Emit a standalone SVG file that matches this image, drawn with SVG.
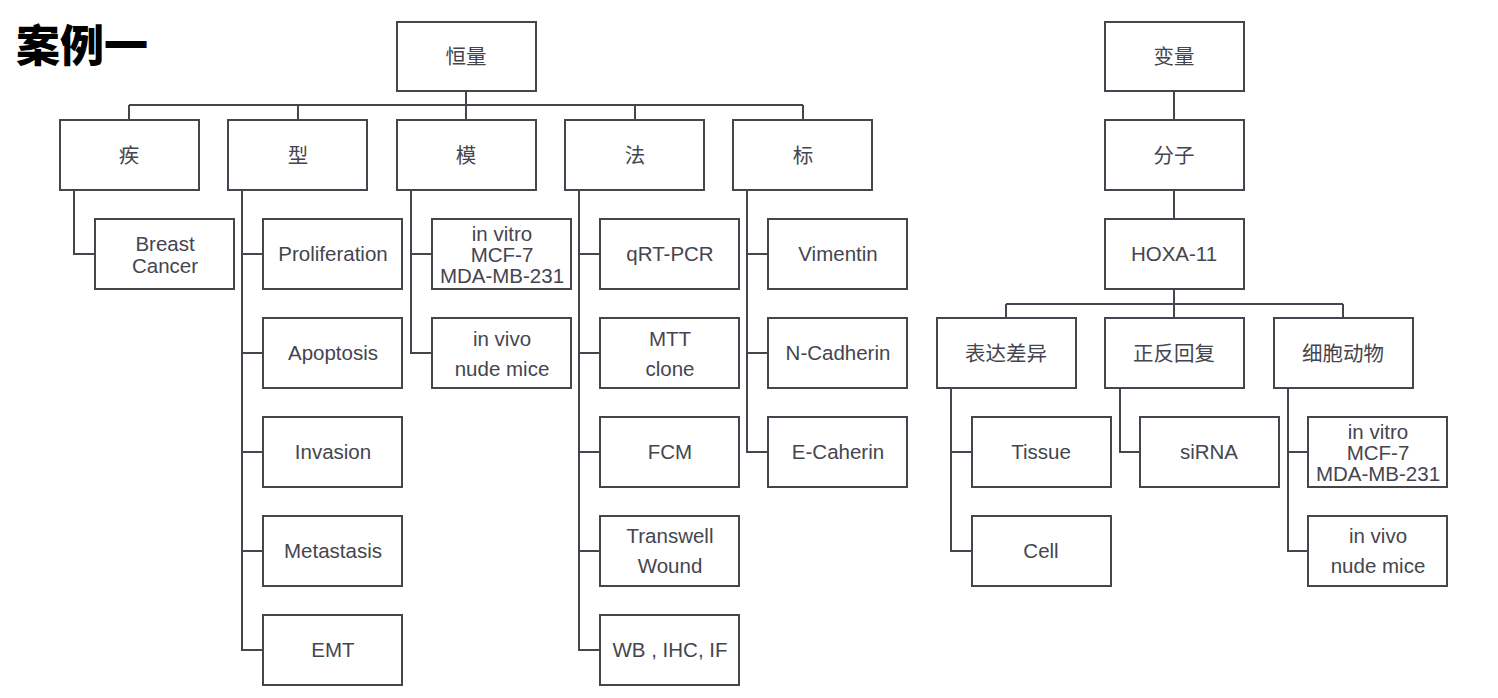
<svg xmlns="http://www.w3.org/2000/svg" width="1498" height="698" viewBox="0 0 1498 698">
<style>
.b{fill:#fff;stroke:#45454d;stroke-width:2}
.c{fill:none;stroke:#45454d;stroke-width:2}
text{font-family:"Liberation Sans","Noto Sans CJK SC",sans-serif;font-size:20.5px;fill:#45454f;text-anchor:middle;dominant-baseline:central}
.t{font-family:"Noto Sans CJK SC",sans-serif;font-size:44px;font-weight:900;fill:#000;text-anchor:start}
</style>
<rect width="1498" height="698" fill="#fff"/>
<text class="t" x="16" y="43">案例一</text>
<g id="connectors">
<path class="c" d="M466 91V120M129 105H803M129 105V120M298 105V120M635 105V120M803 105V120"/>
<path class="c" d="M74 190V254H95"/>
<path class="c" d="M242 190V650H263M242 254H263M242 353H263M242 452H263M242 551H263"/>
<path class="c" d="M411 190V353H432M411 254H432"/>
<path class="c" d="M579 190V650H600M579 254H600M579 353H600M579 452H600M579 551H600"/>
<path class="c" d="M747 190V452H768M747 254H768M747 353H768"/>
<path class="c" d="M1174 91V120M1174 190V219M1174 289V318M1006 304H1343M1006 304V318M1343 304V318"/>
<path class="c" d="M951 388V551H972M951 452H972"/>
<path class="c" d="M1120 388V452H1140"/>
<path class="c" d="M1288 388V551H1308M1288 452H1308"/>
</g>
<g id="n-hengliang"><rect class="b" x="397" y="22" width="139" height="69"/><text x="466" y="56">恒量</text></g>
<g id="n-ji"><rect class="b" x="60" y="120" width="139" height="70"/><text x="129" y="155">疾</text></g>
<g id="n-xing"><rect class="b" x="228" y="120" width="139" height="70"/><text x="298" y="155">型</text></g>
<g id="n-mo"><rect class="b" x="397" y="120" width="139" height="70"/><text x="466" y="155">模</text></g>
<g id="n-fa"><rect class="b" x="565" y="120" width="139" height="70"/><text x="635" y="155">法</text></g>
<g id="n-biao"><rect class="b" x="733" y="120" width="139" height="70"/><text x="803" y="155">标</text></g>
<g id="n-bc"><rect class="b" x="95" y="219" width="139" height="70"/><text x="165" y="243">Breast</text><text x="165" y="265">Cancer</text></g>
<g id="n-prolif"><rect class="b" x="263" y="219" width="139" height="70"/><text x="333" y="253">Proliferation</text></g>
<g id="n-apop"><rect class="b" x="263" y="318" width="139" height="70"/><text x="333" y="352">Apoptosis</text></g>
<g id="n-inv"><rect class="b" x="263" y="417" width="139" height="70"/><text x="333" y="451">Invasion</text></g>
<g id="n-meta"><rect class="b" x="263" y="516" width="139" height="70"/><text x="333" y="550">Metastasis</text></g>
<g id="n-emt"><rect class="b" x="263" y="615" width="139" height="70"/><text x="333" y="649">EMT</text></g>
<g id="n-invitro1"><rect class="b" x="432" y="219" width="139" height="70"/><text x="502" y="233">in vitro</text><text x="502" y="254">MCF-7</text><text x="502" y="275">MDA-MB-231</text></g>
<g id="n-invivo1"><rect class="b" x="432" y="318" width="139" height="70"/><text x="502" y="338">in vivo</text><text x="502" y="368">nude mice</text></g>
<g id="n-qrt"><rect class="b" x="600" y="219" width="139" height="70"/><text x="670" y="253">qRT-PCR</text></g>
<g id="n-mtt"><rect class="b" x="600" y="318" width="139" height="70"/><text x="670" y="338">MTT</text><text x="670" y="368">clone</text></g>
<g id="n-fcm"><rect class="b" x="600" y="417" width="139" height="70"/><text x="670" y="451">FCM</text></g>
<g id="n-tw"><rect class="b" x="600" y="516" width="139" height="70"/><text x="670" y="535">Transwell</text><text x="670" y="565">Wound</text></g>
<g id="n-wb"><rect class="b" x="600" y="615" width="139" height="70"/><text x="670" y="649">WB , IHC, IF</text></g>
<g id="n-vim"><rect class="b" x="768" y="219" width="139" height="70"/><text x="838" y="253">Vimentin</text></g>
<g id="n-ncad"><rect class="b" x="768" y="318" width="139" height="70"/><text x="838" y="352">N-Cadherin</text></g>
<g id="n-ecad"><rect class="b" x="768" y="417" width="139" height="70"/><text x="838" y="451">E-Caherin</text></g>
<g id="n-bianliang"><rect class="b" x="1105" y="22" width="139" height="69"/><text x="1174" y="56">变量</text></g>
<g id="n-fenzi"><rect class="b" x="1105" y="120" width="139" height="70"/><text x="1174" y="155">分子</text></g>
<g id="n-hoxa"><rect class="b" x="1105" y="219" width="139" height="70"/><text x="1174" y="253">HOXA-11</text></g>
<g id="n-biaoda"><rect class="b" x="937" y="318" width="139" height="70"/><text x="1006" y="353">表达差异</text></g>
<g id="n-zhengfan"><rect class="b" x="1105" y="318" width="139" height="70"/><text x="1174" y="353">正反回复</text></g>
<g id="n-xibao"><rect class="b" x="1274" y="318" width="139" height="70"/><text x="1343" y="353">细胞动物</text></g>
<g id="n-tissue"><rect class="b" x="972" y="417" width="139" height="70"/><text x="1041" y="451">Tissue</text></g>
<g id="n-cell"><rect class="b" x="972" y="516" width="139" height="70"/><text x="1041" y="550">Cell</text></g>
<g id="n-sirna"><rect class="b" x="1140" y="417" width="139" height="70"/><text x="1209" y="451">siRNA</text></g>
<g id="n-invitro2"><rect class="b" x="1308" y="417" width="139" height="70"/><text x="1378" y="431">in vitro</text><text x="1378" y="452">MCF-7</text><text x="1378" y="473">MDA-MB-231</text></g>
<g id="n-invivo2"><rect class="b" x="1308" y="516" width="139" height="70"/><text x="1378" y="535">in vivo</text><text x="1378" y="565">nude mice</text></g>
</svg>
